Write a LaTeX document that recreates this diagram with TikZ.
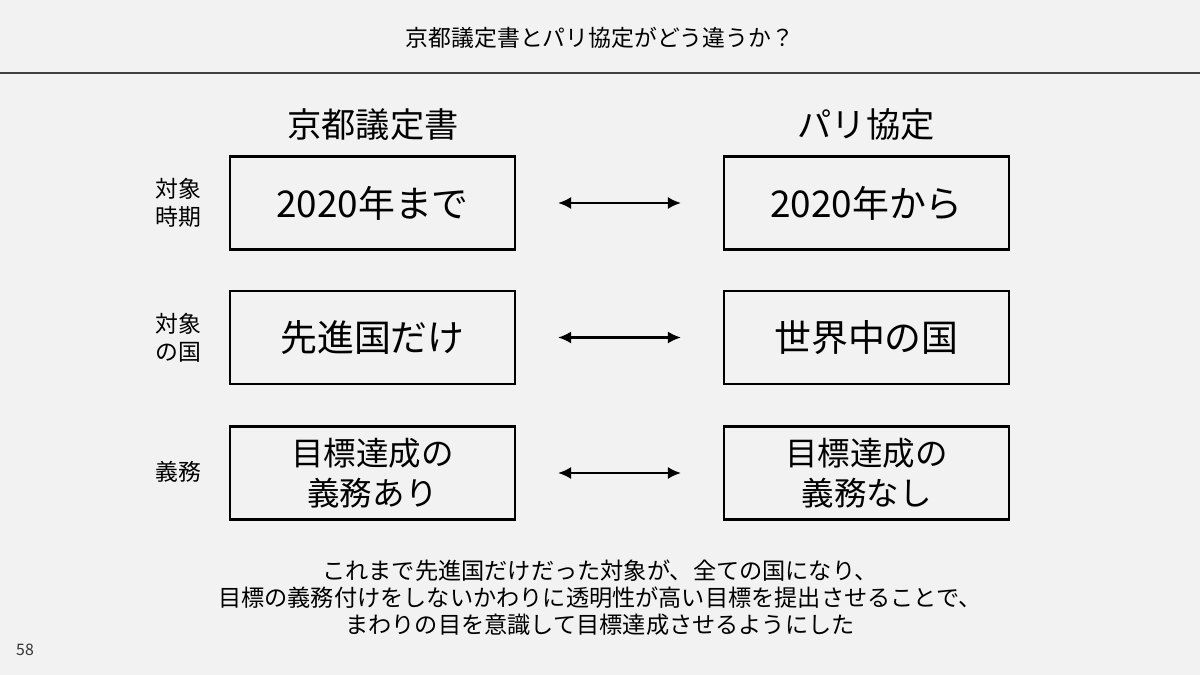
\documentclass[tikz,border=0pt]{standalone}
\usepackage{fontspec}
\setmainfont{Noto Sans CJK JP}
\usetikzlibrary{arrows.meta}
\definecolor{bggray}{HTML}{F2F2F2}
\tikzset{
  box/.style={draw, line width=1.2pt, minimum width=285*0.02cm, minimum height=93*0.02cm, align=center, font=\fontsize{21}{26}\selectfont},
  rowlabel/.style={align=center, font=\fontsize{13}{16}\selectfont},
  twoway/.style={{Latex[length=7.5pt,width=7pt]}-{Latex[length=7.5pt,width=7pt]}, line width=1.3pt}
}
\begin{document}
\begin{tikzpicture}[x=0.02cm, y=-0.02cm]
\fill[bggray] (0,0) rectangle (1200,675);
\useasboundingbox (0,0) rectangle (1200,675);
\node (title) at (600,38) {\fontsize{13}{16}\selectfont 京都議定書とパリ協定がどう違うか？};
\draw[line width=1pt, black!75] (0,73) -- (1200,73);
\node (kyoto) at (373,125) {\fontsize{19.5}{24}\selectfont 京都議定書};
\node (paris) at (866,125) {\fontsize{19.5}{24}\selectfont パリ協定};
% rows
\node[rowlabel] (lab1) at (178,203) {対象\\時期};
\node[rowlabel] (lab2) at (178,338) {対象\\の国};
\node[rowlabel] (lab3) at (178,472) {義務};
\node[box] (k1) at (372.5,203) {2020年まで};
\node[box] (p1) at (866.5,203) {2020年から};
\node[box] (k2) at (372.5,337.5) {先進国だけ};
\node[box] (p2) at (866.5,337.5) {世界中の国};
\node[box, font=\fontsize{18.5}{23}\selectfont] (k3) at (372.5,473) {目標達成の\\義務あり};
\node[box, font=\fontsize{18.5}{23}\selectfont] (p3) at (866.5,473) {目標達成の\\義務なし};
\foreach \r in {1,2,3} {
  \draw[twoway] ([xshift=42*0.02cm]k\r.east) -- ([xshift=-42*0.02cm]p\r.west);
}
\node[align=center, font=\fontsize{13.2}{15.3}\selectfont] (summary) at (600,598) {これまで先進国だけだった対象が、全ての国になり、\\目標の義務付けをしないかわりに透明性が高い目標を提出させることで、\\まわりの目を意識して目標達成させるようにした};
\node[font=\fontsize{9}{11}\selectfont, text=black!80] (page) at (25,650) {58};
\end{tikzpicture}
\end{document}
